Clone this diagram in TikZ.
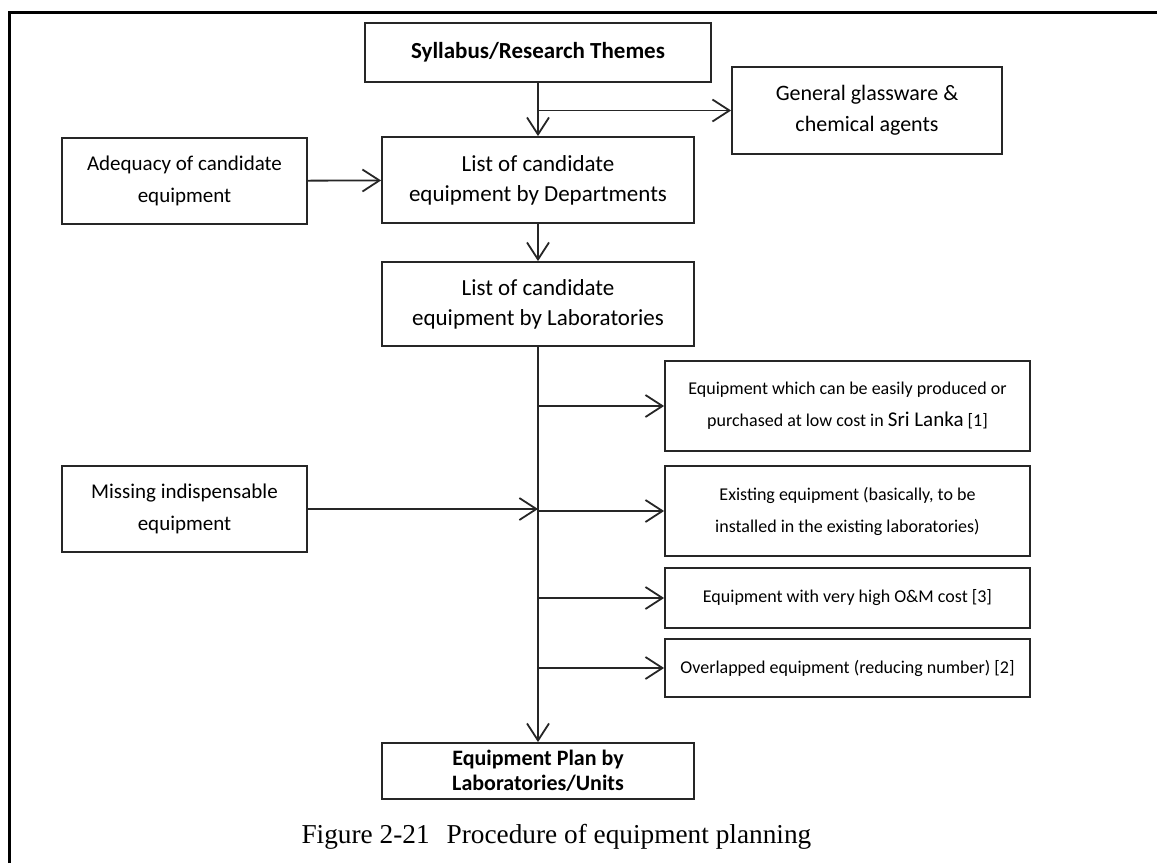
\documentclass[tikz,border=0pt]{standalone}
\usepackage{fontspec}
\setmainfont{Carlito}
\newfontfamily\capfont{Liberation Serif}
\usetikzlibrary{positioning, arrows.meta}

\begin{document}
\begin{tikzpicture}[x=1pt, y=-1pt,
    box/.style={draw=black!85, line width=1.8pt, align=center, inner sep=0pt, font=\fontsize{23}{30}\selectfont},
    smallbox/.style={box, font=\fontsize{21}{32}\selectfont},
    sidebox/.style={box, minimum width=365, font=\fontsize{18}{32}\selectfont},
    flow/.style={line width=1.8pt, draw=black!85, -{Straight Barb[length=17pt, width=22pt]}}]
    \useasboundingbox (0,0) rectangle (1157,863);

    % Draw frame
    \draw[line width=3pt] (9,863) -- (9,12) -- (1157,12);

    % Draw boxes of the main column
    \node[box, font=\bfseries\fontsize{23}{30}\selectfont, minimum width=346, minimum height=59] (syl) at (538,52.5) {Syllabus/Research Themes};
    \node[box, minimum width=312, minimum height=86] (dept) at (538,180) {List of candidate\\equipment by Departments};
    \node[box, minimum width=312, minimum height=84] (labs) at (538,304) {List of candidate\\equipment by Laboratories};
    \node[box, font=\bfseries\fontsize{22}{25}\selectfont, minimum width=312, minimum height=56] (plan) at (538,771) {Equipment Plan by\\Laboratories/Units};

    % Draw side boxes
    \node[box, font=\fontsize{22}{31}\selectfont, minimum width=270, minimum height=87] (gen) at (867,110.5) {General glassware \&\\chemical agents};
    \node[smallbox, minimum width=245, minimum height=86] (adeq) at (184.5,181) {Adequacy of candidate\\equipment};
    \node[smallbox, minimum width=245, minimum height=86] (miss) at (184.5,509) {Missing indispensable\\equipment};
    \node[sidebox, minimum height=90] (easy) at (847.5,406) {Equipment which can be easily produced or\\purchased at low cost in {\fontsize{21}{32}\selectfont Sri Lanka} [1]};
    \node[sidebox, minimum height=90] (exist) at (847.5,511) {Existing equipment (basically, to be\\installed in the existing laboratories)};
    \node[sidebox, minimum height=60] (cost) at (847.5,598) {Equipment with very high O\&M cost [3]};
    \node[sidebox, minimum height=58] (over) at (847.5,668) {Overlapped equipment (reducing number) [2]};

    % Draw connectors
    \draw[flow] (syl) -- (dept);
    \draw[flow] (syl.south |- gen.west) -- (gen.west);
    \draw[flow] (adeq) -- (dept);
    \draw[flow] (dept) -- (labs);
    \draw[flow] (labs) -- (plan);
    \draw[flow] (miss.east) -- (miss.east -| labs.south);
    \draw[flow] (labs.south |- easy.west) -- (easy.west);
    \draw[flow] (labs.south |- exist.west) -- (exist.west);
    \draw[flow] (labs.south |- cost.west) -- (cost.west);
    \draw[flow] (labs.south |- over.west) -- (over.west);

    % Draw caption
    \node[anchor=base west, font=\capfont\fontsize{27.3}{30}\selectfont] (cap) at (298,843) {Figure 2-21\hspace{17pt}Procedure of equipment planning};
\end{tikzpicture}
\end{document}
